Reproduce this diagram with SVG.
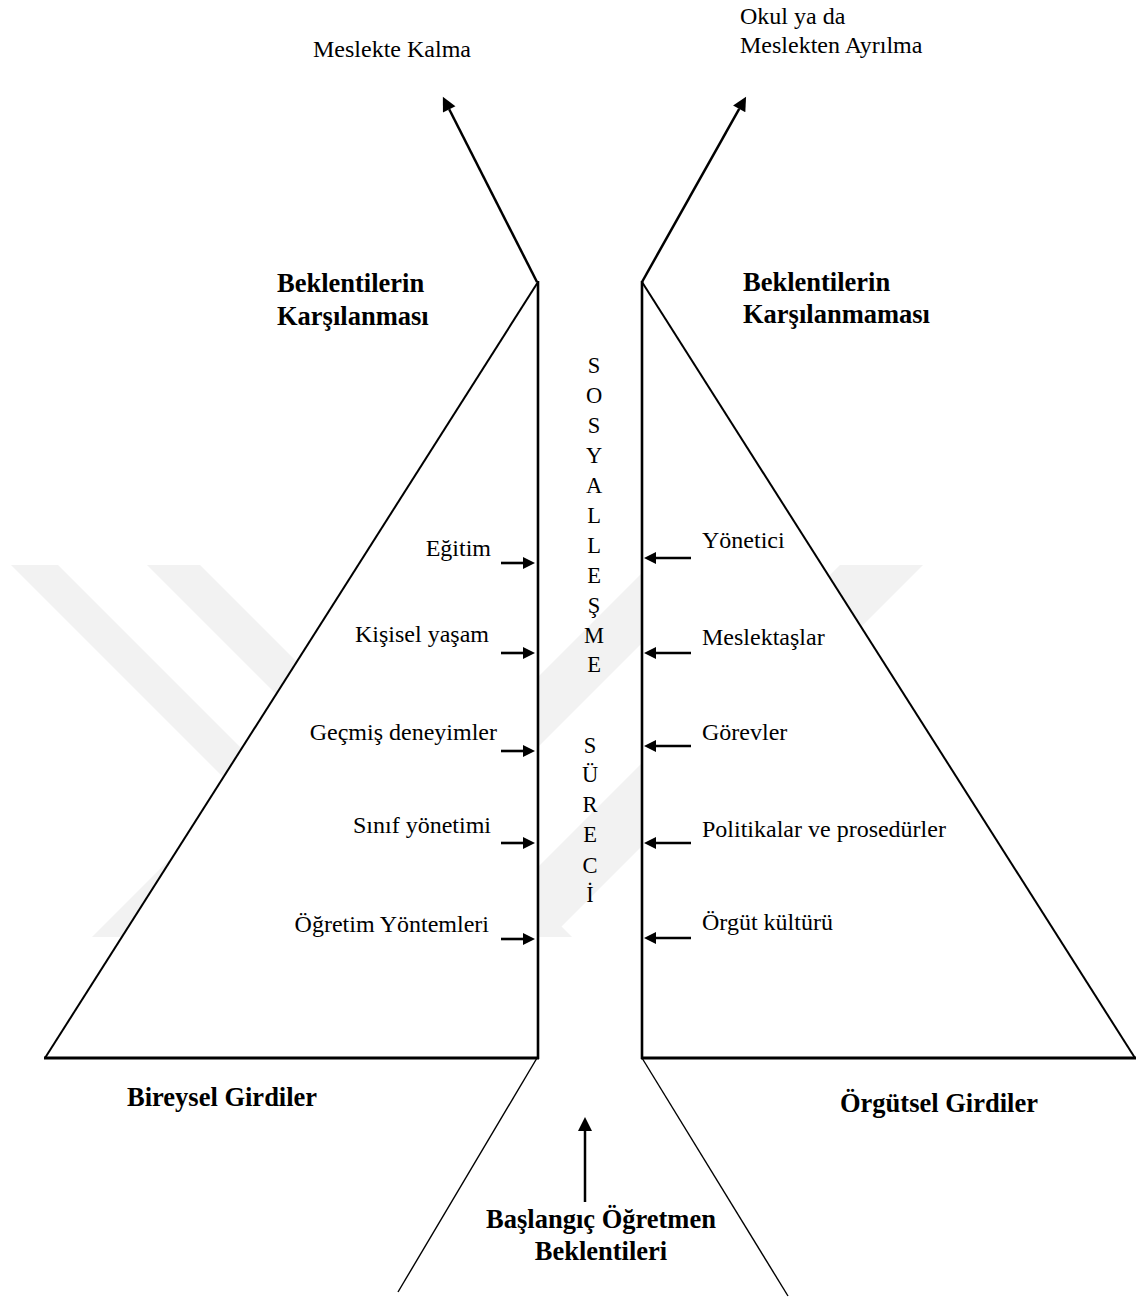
<svg xmlns="http://www.w3.org/2000/svg" width="1138" height="1299" viewBox="0 0 1138 1299">
<style>
text{font-family:"Liberation Serif","Times New Roman",serif;fill:#000}
.r{font-size:24px}
.b{font-size:26.5px;font-weight:bold}
.v{font-size:22.5px;text-anchor:middle}
.ln{stroke:#000;fill:none}
.wm{fill:#f2f2f2}
</style>
<defs>
<marker id="ahS" viewBox="0 0 10 10" refX="0" refY="5" markerWidth="12" markerHeight="13" markerUnits="userSpaceOnUse" orient="auto"><path d="M0,0 L10,5 L0,10 z" fill="#000"/></marker>
<marker id="ahL" viewBox="0 0 10 10" refX="0" refY="5" markerWidth="16" markerHeight="14" markerUnits="userSpaceOnUse" orient="auto"><path d="M0,0 L10,5 L0,10 z" fill="#000"/></marker>
</defs>
<rect width="1138" height="1299" fill="#fff"/>
<g id="watermark">
<polygon class="wm" points="11,565 58,565 430,937 383,937"/>
<polygon class="wm" points="147,565 200,565 572,937 519,937"/>
<polygon class="wm" points="464,565 534,565 162,937 92,937"/>
<polygon class="wm" points="650,565 720,565 348,937 278,937"/>
<polygon class="wm" points="840,565 923,565 551,937 468,937"/>
</g>
<g id="left-triangle">
<polygon points="538,282 538,1058 45,1058" fill="#fff"/>
<line class="ln" x1="538" y1="282" x2="45" y2="1058" stroke-width="2"/>
<line class="ln" x1="538" y1="281" x2="538" y2="1059" stroke-width="2.6"/>
<line class="ln" x1="44" y1="1058" x2="539" y2="1058" stroke-width="3"/>
</g>
<g id="right-triangle">
<polygon points="642,282 642,1058 1135,1058" fill="#fff"/>
<line class="ln" x1="642" y1="282" x2="1135" y2="1058" stroke-width="2"/>
<line class="ln" x1="642" y1="281" x2="642" y2="1059" stroke-width="2.6"/>
<line class="ln" x1="641" y1="1058" x2="1136" y2="1058" stroke-width="3"/>
</g>
<g id="connectors">
<line class="ln" x1="537" y1="282" x2="449.2" y2="109.3" stroke-width="2.5" marker-end="url(#ahL)"/>
<line class="ln" x1="642" y1="282" x2="739.2" y2="108.9" stroke-width="2.5" marker-end="url(#ahL)"/>
<line class="ln" x1="585" y1="1202" x2="585" y2="1131" stroke-width="2.5" marker-end="url(#ahL)"/>
<line class="ln" x1="537" y1="1058" x2="398" y2="1292" stroke-width="1.4"/>
<line class="ln" x1="642" y1="1058" x2="788" y2="1296" stroke-width="1.4"/>
<line class="ln" x1="501" y1="563" x2="523" y2="563" stroke-width="2.6" marker-end="url(#ahS)"/>
<line class="ln" x1="501" y1="653" x2="523" y2="653" stroke-width="2.6" marker-end="url(#ahS)"/>
<line class="ln" x1="501" y1="751" x2="523" y2="751" stroke-width="2.6" marker-end="url(#ahS)"/>
<line class="ln" x1="501" y1="843" x2="523" y2="843" stroke-width="2.6" marker-end="url(#ahS)"/>
<line class="ln" x1="501" y1="939" x2="523" y2="939" stroke-width="2.6" marker-end="url(#ahS)"/>
<line class="ln" x1="691" y1="558" x2="656" y2="558" stroke-width="2.6" marker-end="url(#ahS)"/>
<line class="ln" x1="691" y1="653" x2="656" y2="653" stroke-width="2.6" marker-end="url(#ahS)"/>
<line class="ln" x1="691" y1="746" x2="656" y2="746" stroke-width="2.6" marker-end="url(#ahS)"/>
<line class="ln" x1="691" y1="843" x2="656" y2="843" stroke-width="2.6" marker-end="url(#ahS)"/>
<line class="ln" x1="691" y1="938" x2="656" y2="938" stroke-width="2.6" marker-end="url(#ahS)"/>
</g>
<g id="outcome-stay"><text class="r" x="313" y="57">Meslekte Kalma</text></g>
<g id="outcome-leave"><text class="r" x="740" y="24">Okul ya da</text><text class="r" x="740" y="53">Meslekten Ayrılma</text></g>
<g id="met"><text class="b" x="277" y="292">Beklentilerin</text><text class="b" x="277" y="325">Karşılanması</text></g>
<g id="unmet"><text class="b" x="743" y="291">Beklentilerin</text><text class="b" x="743" y="323">Karşılanmaması</text></g>
<g id="individual-inputs">
<text class="r" x="491" y="556" text-anchor="end">Eğitim</text>
<text class="r" x="489" y="642" text-anchor="end">Kişisel yaşam</text>
<text class="r" x="497" y="740" text-anchor="end">Geçmiş deneyimler</text>
<text class="r" x="491" y="833" text-anchor="end">Sınıf yönetimi</text>
<text class="r" x="489" y="932" text-anchor="end">Öğretim Yöntemleri</text>
</g>
<g id="organizational-inputs">
<text class="r" x="702" y="548">Yönetici</text>
<text class="r" x="702" y="645">Meslektaşlar</text>
<text class="r" x="702" y="740">Görevler</text>
<text class="r" x="702" y="837">Politikalar ve prosedürler</text>
<text class="r" x="702" y="930">Örgüt kültürü</text>
</g>
<g id="socialization-process">
<text class="v" x="594" y="373">S</text><text class="v" x="594" y="403">O</text><text class="v" x="594" y="433">S</text><text class="v" x="594" y="463">Y</text><text class="v" x="594" y="493">A</text><text class="v" x="594" y="523">L</text><text class="v" x="594" y="553">L</text><text class="v" x="594" y="583">E</text><text class="v" x="594" y="613">Ş</text><text class="v" x="594" y="643">M</text><text class="v" x="594" y="672">E</text>
<text class="v" x="590" y="753">S</text><text class="v" x="590" y="782">Ü</text><text class="v" x="590" y="812">R</text><text class="v" x="590" y="842">E</text><text class="v" x="590" y="873">C</text><text class="v" x="590" y="902">İ</text>
</g>
<g id="individual-label"><text class="b" x="127" y="1106">Bireysel Girdiler</text></g>
<g id="organizational-label"><text class="b" x="840" y="1112">Örgütsel Girdiler</text></g>
<g id="initial-expectations"><text class="b" x="601" y="1228" text-anchor="middle">Başlangıç Öğretmen</text><text class="b" x="601" y="1260" text-anchor="middle">Beklentileri</text></g>
</svg>
